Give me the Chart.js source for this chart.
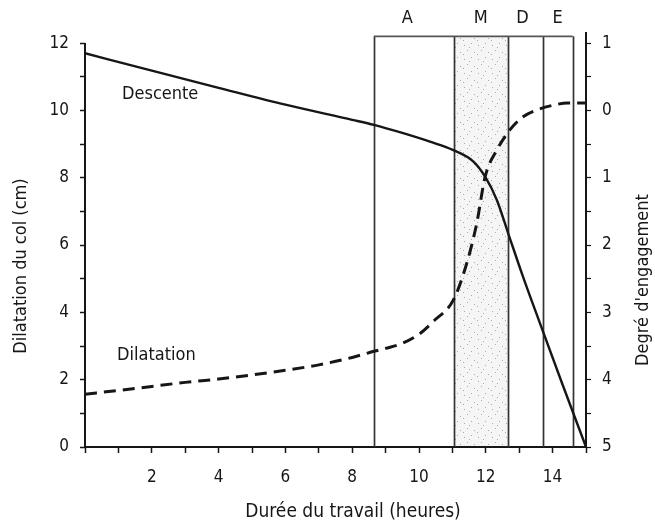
<!DOCTYPE html>
<html>
<head>
<meta charset="utf-8">
<script src="https://cdn.jsdelivr.net/npm/chart.js@4/dist/chart.umd.min.js"></script>
<style>
  html, body { margin: 0; padding: 0; background: #ffffff; }
  #wrap { width: 655px; height: 528px; position: relative; }
</style>
</head>
<body>
<div id="wrap"><canvas id="c" width="655" height="528"></canvas></div>
<script>
// ---- data ----
const descenteX = [0, 2, 4, 6, 8, 8.65, 9.5, 10.33, 11.03, 11.63, 11.98, 12.33, 12.67, 13.1, 13.62, 14.3, 15];
const descenteY = [11.7, 11.18, 10.67, 10.17, 9.72, 9.57, 9.33, 9.07, 8.82, 8.48, 8.03, 7.34, 6.35, 5.1, 3.68, 1.85, 0];

const dilatationX = [0, 1, 2, 3, 4, 5, 6, 7, 8, 8.5, 9, 9.5, 10, 10.45, 11.03, 11.43, 11.73, 11.98, 12.33, 12.72, 13.1, 13.52, 14, 14.45, 15];
const dilatationY = [1.57, 1.68, 1.8, 1.92, 2.02, 2.14, 2.28, 2.44, 2.66, 2.8, 2.93, 3.08, 3.35, 3.75, 4.37, 5.46, 6.65, 8.03, 8.82, 9.42, 9.8, 10.01, 10.15, 10.22, 10.22];

// phase boundaries (hours) and phase letters
const phaseBounds = [8.65, 11.05, 12.65, 13.7, 14.6];
const phaseLetters = ['A', 'M', 'D', 'E'];
const phaseLetterX = [9.65, 11.85, 13.1, 14.15];
const shadedPhase = 'M';

// axis ticks
const xTickValues = [0,1,2,3,4,5,6,7,8,9,10,11,12,13,14,15];
const xTickLabels = ['', '', '2', '', '4', '', '6', '', '8', '', '10', '', '12', '', '14', ''];
const yTickValues = [0,1,2,3,4,5,6,7,8,9,10,11,12];
const yTickLabels = ['0', '', '2', '', '4', '', '6', '', '8', '', '10', '', '12'];
const engTickValues = [-1, -0.5, 0, 0.5, 1, 1.5, 2, 2.5, 3, 3.5, 4, 4.5, 5];
const engTickLabels = ['1', '', '0', '', '1', '', '2', '', '3', '', '4', '', '5'];

// texts
const xTitle = 'Durée du travail (heures)';
const yTitle = 'Dilatation du col (cm)';
const y2Title = "Degré d'engagement";
const seriesNames = ['Descente', 'Dilatation'];

const FONT = "'DejaVu Sans Condensed', 'Liberation Sans Narrow', 'DejaVu Sans', sans-serif";
const INK = '#161616';

const toPts = (xs, ys) => xs.map((x, i) => ({ x: x, y: ys[i] }));

// deterministic stipple pattern for the shaded phase
function makeStipple(ctx) {
  const p = document.createElement('canvas');
  p.width = 14; p.height = 14;
  const g = p.getContext('2d');
  g.fillStyle = 'rgba(0,0,0,0.04)';
  g.fillRect(0, 0, 14, 14);
  g.fillStyle = 'rgba(60,60,60,0.4)';
  [[2,3],[9,1],[5,8],[12,10],[1,12],[7,5]].forEach(([a,b]) => g.fillRect(a, b, 1, 1));
  return ctx.createPattern(p, 'repeat');
}

const decor = {
  id: 'decor',
  beforeDatasetsDraw(chart) {
    const { ctx, scales: { x, y } } = chart;
    const top = y.getPixelForValue(12.2);
    const bot = y.getPixelForValue(0);
    ctx.save();
    // shaded phase
    const mi = phaseLetters.indexOf(shadedPhase);
    const mx0 = x.getPixelForValue(phaseBounds[mi]);
    const mx1 = x.getPixelForValue(phaseBounds[mi + 1]);
    ctx.fillStyle = makeStipple(ctx);
    ctx.fillRect(mx0, top, mx1 - mx0, bot - top);
    // vertical phase lines
    ctx.strokeStyle = '#333';
    ctx.lineWidth = 1.7;
    phaseBounds.forEach(b => {
      const px = Math.round(x.getPixelForValue(b)) + 0.5;
      ctx.beginPath(); ctx.moveTo(px, top); ctx.lineTo(px, bot); ctx.stroke();
    });
    // top line
    ctx.strokeStyle = '#555';
    ctx.lineWidth = 1.6;
    ctx.beginPath();
    ctx.moveTo(x.getPixelForValue(phaseBounds[0]), top);
    ctx.lineTo(x.getPixelForValue(phaseBounds[phaseBounds.length - 1]), top);
    ctx.stroke();
    // left axis line from 0 to 12
    ctx.strokeStyle = INK;
    ctx.lineWidth = 2;
    const lx = chart.chartArea.left;
    ctx.beginPath(); ctx.moveTo(lx, y.getPixelForValue(12)); ctx.lineTo(lx, bot + 1); ctx.stroke();
    ctx.restore();
  },
  afterDraw(chart) {
    const { ctx, scales: { x, y } } = chart;
    ctx.save();
    ctx.fillStyle = INK;
    ctx.textAlign = 'center';
    ctx.textBaseline = 'middle';
    // phase letters
    ctx.font = '18px ' + FONT;
    phaseLetters.forEach((l, i) => {
      ctx.fillText(l, x.getPixelForValue(phaseLetterX[i]), 18);
    });
    // series labels
    ctx.font = '18px ' + FONT;
    ctx.textAlign = 'left';
    ctx.fillText(seriesNames[0], 122, 94);
    ctx.fillText(seriesNames[1], 117, 355);
    // axis titles
    ctx.textAlign = 'center';
    ctx.font = '19px ' + FONT;
    ctx.fillText(xTitle, 353, 512);
    ctx.save();
    ctx.translate(21, 266);
    ctx.rotate(-Math.PI / 2);
    ctx.font = '18px ' + FONT;
    ctx.fillText(yTitle, 0, 0);
    ctx.restore();
    ctx.save();
    ctx.translate(643, 280);
    ctx.rotate(-Math.PI / 2);
    ctx.font = '18px ' + FONT;
    ctx.fillText(y2Title, 0, 0);
    ctx.restore();
    ctx.restore();
  }
};

const tickFont = { family: FONT, size: 17 };

new Chart(document.getElementById('c'), {
  type: 'line',
  data: {
    datasets: [
      {
        label: seriesNames[0],
        data: toPts(descenteX, descenteY),
        borderColor: INK,
        borderWidth: 2.4,
        pointRadius: 0,
        cubicInterpolationMode: 'monotone',
        fill: false,
        yAxisID: 'y'
      },
      {
        label: seriesNames[1],
        data: toPts(dilatationX, dilatationY),
        borderColor: INK,
        borderWidth: 3,
        borderDash: [12, 7],
        pointRadius: 0,
        cubicInterpolationMode: 'monotone',
        fill: false,
        yAxisID: 'y'
      }
    ]
  },
  options: {
    responsive: false,
    animation: false,
    events: [],
    layout: { padding: { top: 33, left: 0, right: 0, bottom: 0 } },
    plugins: { legend: { display: false }, tooltip: { enabled: false }, title: { display: false } },
    scales: {
      x: {
        type: 'linear',
        min: 0, max: 15,
        afterBuildTicks: s => { s.ticks = xTickValues.map(v => ({ value: v })); },
        afterFit: s => { s.height = 81; },
        ticks: {
          color: INK, font: tickFont, padding: 14, maxRotation: 0, autoSkip: false,
          callback: (v) => xTickLabels[xTickValues.indexOf(v)] ?? ''
        },
        grid: { drawOnChartArea: false, drawTicks: true, tickLength: 6, tickColor: INK, tickWidth: 1.5 },
        border: { display: true, color: INK, width: 2 }
      },
      y: {
        type: 'linear',
        position: 'left',
        min: 0, max: 12.3,
        afterBuildTicks: s => { s.ticks = yTickValues.map(v => ({ value: v })); },
        afterFit: s => { s.width = 85; },
        ticks: {
          color: INK, font: tickFont, padding: 11, autoSkip: false,
          callback: (v) => yTickLabels[yTickValues.indexOf(v)] ?? ''
        },
        grid: { drawOnChartArea: false, drawTicks: true, tickLength: 5, tickColor: INK, tickWidth: 1.5 },
        border: { display: false }
      },
      y2: {
        type: 'linear',
        position: 'right',
        reverse: true,
        min: -1.15, max: 5,
        afterBuildTicks: s => { s.ticks = engTickValues.map(v => ({ value: v })); },
        afterFit: s => { s.width = 69; },
        ticks: {
          color: INK, font: tickFont, padding: 11, autoSkip: false,
          callback: (v) => engTickLabels[engTickValues.indexOf(v)] ?? ''
        },
        grid: { drawOnChartArea: false, drawTicks: true, tickLength: 5, tickColor: INK, tickWidth: 1.2 },
        border: { display: true, color: INK, width: 2 }
      }
    }
  },
  plugins: [decor]
});
</script>
</body>
</html>
